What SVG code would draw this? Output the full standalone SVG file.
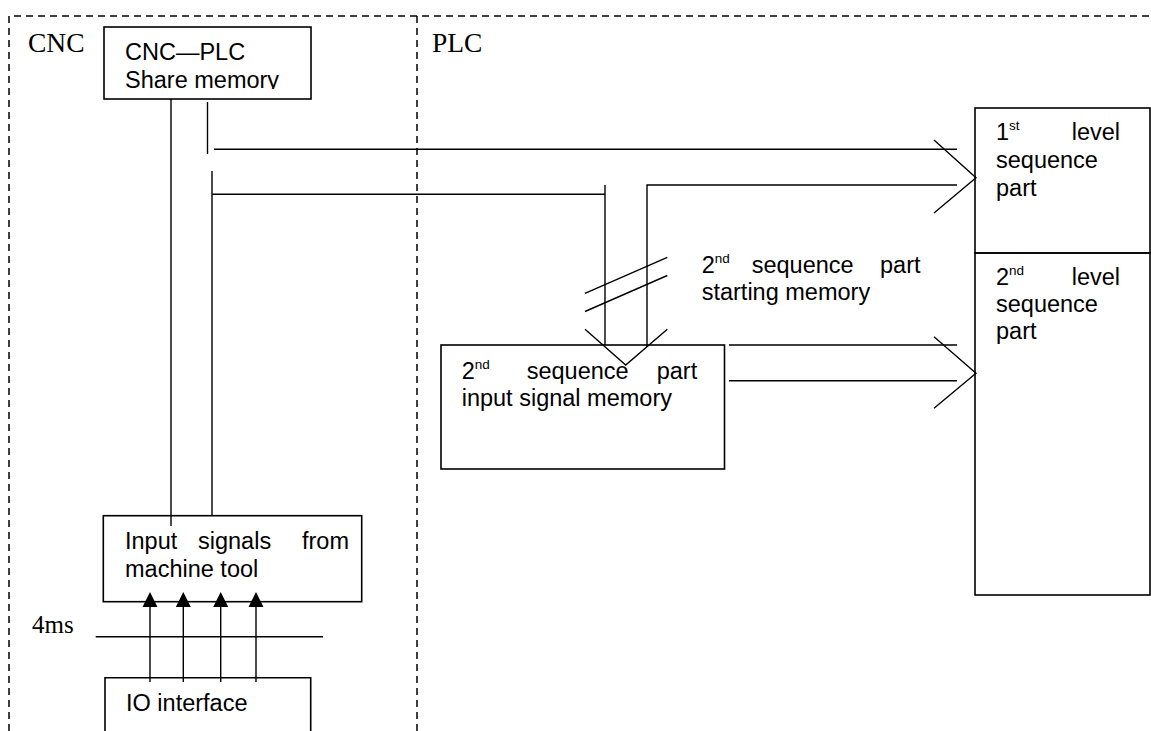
<svg xmlns="http://www.w3.org/2000/svg" width="1151" height="731" viewBox="0 0 1151 731">
<style>
.bg{fill:#fff}
.box{fill:none;stroke:#000;stroke-width:1.6}
.dash{fill:none;stroke:#000;stroke-width:1.5;stroke-dasharray:7 5}
.ln{fill:none;stroke:#000;stroke-width:1.4}
.head{fill:#000;stroke:none}
.t{font-family:"Liberation Sans",Arial,sans-serif;font-size:23.5px;fill:#000}
.sup{font-size:13.5px}
.s{font-family:"Liberation Serif","Times New Roman",serif;font-size:27.5px;fill:#000}
</style>
<defs>
<clipPath id="clipShare"><rect x="104" y="27" width="207" height="62"/></clipPath>
</defs>
<rect class="bg" x="0" y="0" width="1151" height="731"/>

<g id="frame">
<path class="dash" d="M9,731 V16 H1151"/>
<path class="dash" d="M417,16 V731"/>
<text class="s" x="28" y="52">CNC</text>
<text class="s" x="432" y="52">PLC</text>
</g>

<g id="share-memory">
<rect class="box" x="104" y="27" width="207" height="72"/>
<text class="t" x="125" y="60">CNC—PLC</text>
<text class="t" x="125" y="88" clip-path="url(#clipShare)">Share memory</text>
</g>

<g id="input-signals">
<rect class="box" x="103.3" y="515.7" width="258.4" height="86"/>
<text class="t" y="549"><tspan x="125">Input</tspan><tspan x="198">signals</tspan><tspan x="302">from</tspan></text>
<text class="t" x="125" y="577">machine tool</text>
</g>

<g id="io-interface">
<path class="box" d="M105,735 V677.7 H310.7 V735"/>
<text class="t" x="126" y="711">IO interface</text>
</g>

<g id="start-memory-label">
<text class="t" y="272.5"><tspan x="701.7">2</tspan><tspan class="sup" dy="-10">nd</tspan><tspan x="751.7" dy="10">sequence</tspan><tspan x="880">part</tspan></text>
<text class="t" x="701.7" y="300">starting memory</text>
</g>

<g id="input-memory">
<rect class="box" x="441" y="345" width="283.5" height="124"/>
<text class="t" y="378.5"><tspan x="461.7">2</tspan><tspan class="sup" dy="-10">nd</tspan><tspan x="526.7" dy="10">sequence</tspan><tspan x="656.7">part</tspan></text>
<text class="t" x="461.7" y="406">input signal memory</text>
</g>

<g id="level1">
<rect class="box" x="975" y="108" width="175" height="145"/>
<text class="t" y="140"><tspan x="996">1</tspan><tspan class="sup" dy="-10">st</tspan><tspan x="1071.7" dy="10">level</tspan></text>
<text class="t" x="996" y="168">sequence</text>
<text class="t" x="996" y="196">part</text>
</g>

<g id="level2">
<rect class="box" x="975" y="253" width="175" height="342"/>
<text class="t" y="285"><tspan x="996">2</tspan><tspan class="sup" dy="-10">nd</tspan><tspan x="1071.7" dy="10">level</tspan></text>
<text class="t" x="996" y="312">sequence</text>
<text class="t" x="996" y="339">part</text>
</g>

<g id="timing-label">
<path class="ln" d="M95.7,636.7 H323"/>
<text class="s" x="32" y="633" style="font-size:25px">4ms</text>
</g>

<g id="connectors">
<path class="ln" d="M171,99 V526"/>
<path class="ln" d="M207.5,102 V154"/>
<path class="ln" d="M214,149.3 H957"/>
<path class="ln" d="M212,171 V515"/>
<path class="ln" d="M212,194.3 H605 M605,185 V345"/>
<path class="ln" d="M647,347 V185 H957"/>
<path class="ln" d="M934,140 L976,177.7 L934,213"/>
<path class="ln" d="M585,293.3 L667.3,257.3 M585,311.5 L667.3,275.5"/>
<path class="ln" d="M585,329.3 L625.7,365 L667.3,329.3"/>
<path class="ln" d="M729,345 H957 M729,380.7 H957"/>
<path class="ln" d="M934,336.7 L976,373.3 L934,408.3"/>
<path class="ln" d="M150,682 V600 M183.3,682 V600 M220.7,682 V600 M256,682 V600"/>
<path class="head" d="M150,592 L157.5,607 L142.5,607 Z M183.3,592 L190.8,607 L175.8,607 Z M220.7,592 L228.2,607 L213.2,607 Z M256,592 L263.5,607 L248.5,607 Z"/>
</g>
</svg>
